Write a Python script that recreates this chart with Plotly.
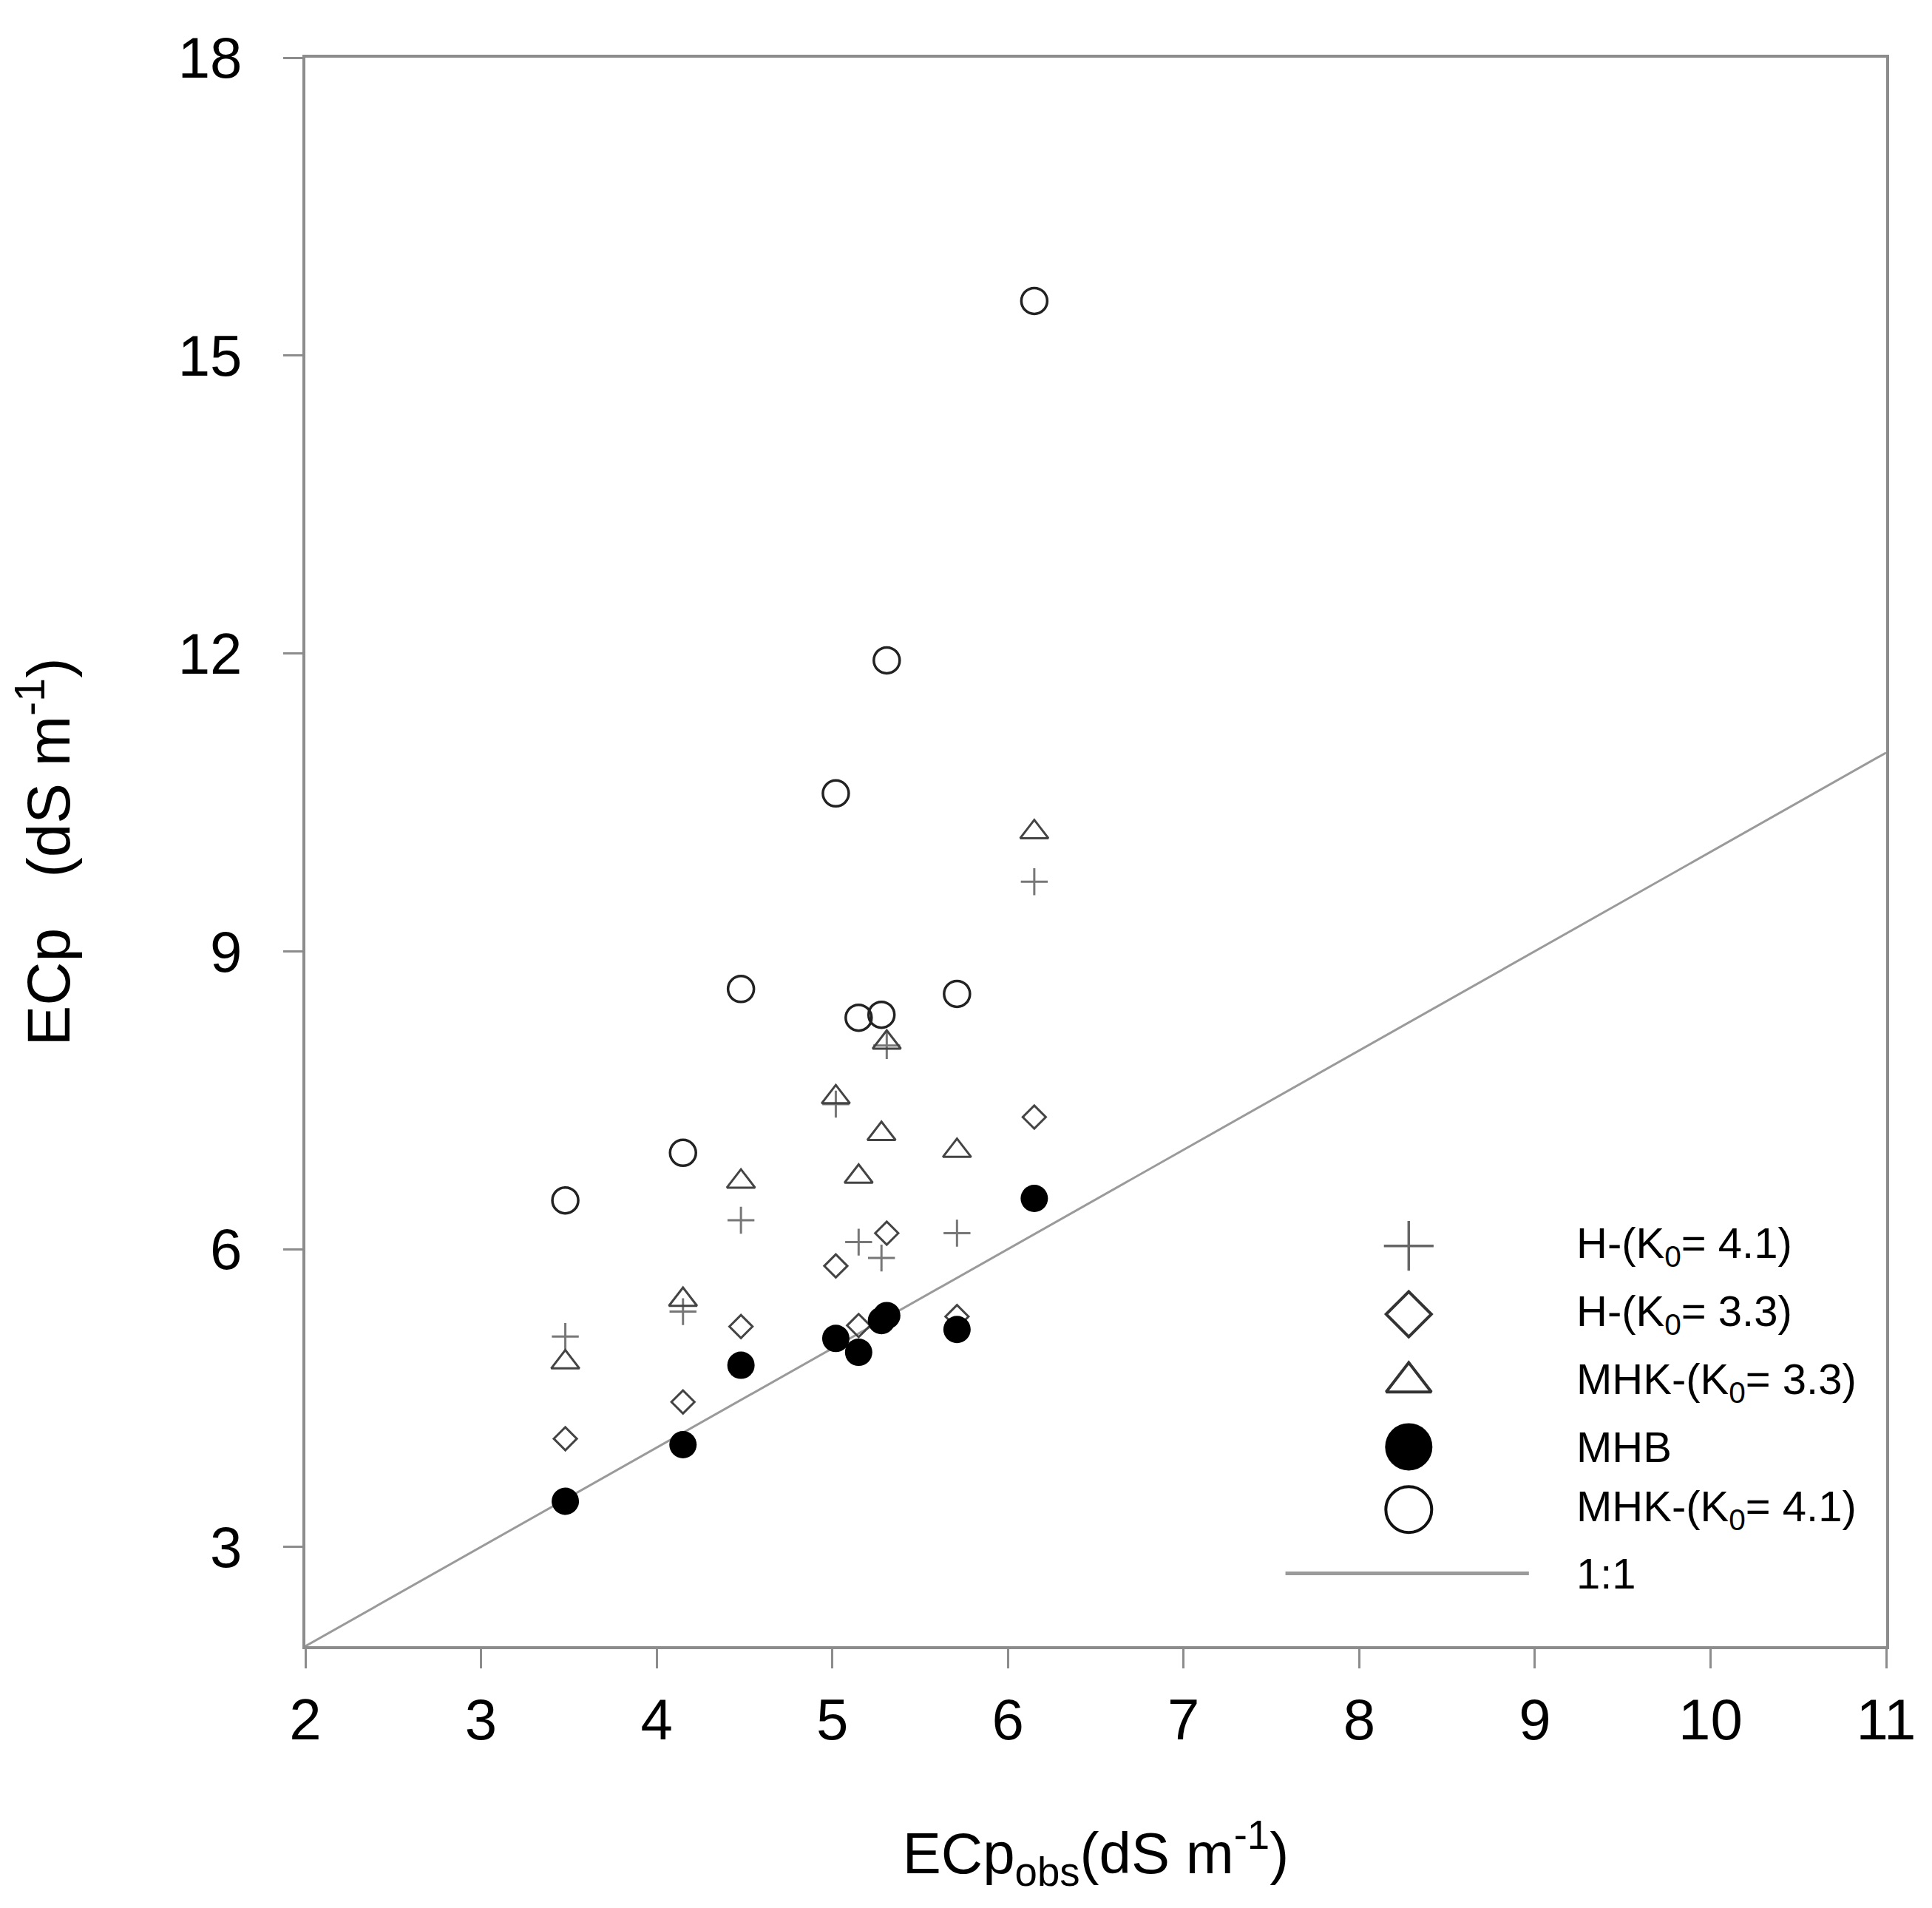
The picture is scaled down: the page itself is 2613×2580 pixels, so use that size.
import plotly.graph_objects as go

# ---------------- data ----------------
ecp_obs = [3.48, 4.15, 4.48, 5.02, 5.15, 5.28, 5.31, 5.71, 6.15]

h_k41 = [5.12, 5.37, 6.29, 7.46, 6.07, 5.91, 8.05, 6.16, 9.70]      # H-(K0=4.1)  +
h_k33 = [4.09, 4.46, 5.22, 5.83, 5.23, 5.30, 6.16, 5.32, 7.33]      # H-(K0=3.3)  diamond
mhk_k33 = [4.86, 5.49, 6.68, 7.53, 6.73, 7.16, 8.08, 6.99, 10.20]   # MHK-(K0=3.3) triangle
mhb = [3.46, 4.03, 4.83, 5.10, 4.96, 5.28, 5.33, 5.19, 6.51]        # MHB filled circle
mhk_k41 = [6.49, 6.97, 8.62, 10.59, 8.33, 8.36, 11.93, 8.57, 15.55] # MHK-(K0=4.1) open circle

one_to_one = [2, 11]

x_ticks = [2, 3, 4, 5, 6, 7, 8, 9, 10, 11]
y_ticks = [3, 6, 9, 12, 15, 18]

legend_labels = ["H-(K<sub>0</sub>= 4.1)", "H-(K<sub>0</sub>= 3.3)",
                 "MHK-(K<sub>0</sub>= 3.3)", "MHB", "MHK-(K<sub>0</sub>= 4.1)", "1:1"]

# ---------------- styling ----------------
FONT = "Liberation Sans, Arial, sans-serif"
AX = "#8c8c8c"

fig = go.Figure()

fig.add_trace(go.Scatter(x=one_to_one, y=one_to_one, mode="lines",
                         line=dict(color="#9a9a9a", width=3), hoverinfo="skip"))

fig.add_trace(go.Scatter(x=ecp_obs, y=h_k41, mode="markers",
                         marker=dict(symbol="cross-thin", size=26, color="#777777",
                                     line=dict(width=3, color="#777777"))))
fig.add_trace(go.Scatter(x=ecp_obs, y=h_k33, mode="markers",
                         marker=dict(symbol="diamond-open", size=24, color="#444444",
                                     line=dict(width=3, color="#444444"))))
fig.add_trace(go.Scatter(x=ecp_obs, y=mhk_k33, mode="markers",
                         marker=dict(symbol="triangle-up-open", size=33, color="#444444",
                                     line=dict(width=3, color="#444444"))))
fig.add_trace(go.Scatter(x=ecp_obs, y=mhb, mode="markers",
                         marker=dict(symbol="circle", size=37, color="black",
                                     line=dict(width=0))))
fig.add_trace(go.Scatter(x=ecp_obs, y=mhk_k41, mode="markers",
                         marker=dict(symbol="circle-open", size=35, color="#222222",
                                     line=dict(width=3.5, color="#222222"))))

# ---------------- hand-drawn legend (large keys) ----------------
key_x = 0.698
text_x = 0.803
row_y = [0.2520, 0.2090, 0.1662, 0.1255, 0.0860, 0.0458]
key_styles = [
    dict(symbol="cross-thin", size=48, color="#666666", line=dict(width=3.5, color="#666666")),
    dict(symbol="diamond-open", size=47, color="#333333", line=dict(width=4, color="#333333")),
    dict(symbol="triangle-up-open", size=53, color="#333333", line=dict(width=4, color="#333333")),
    dict(symbol="circle", size=64, color="black", line=dict(width=0)),
    dict(symbol="circle-open", size=62, color="#111111", line=dict(width=4, color="#111111")),
]
for st, yy in zip(key_styles, row_y[:5]):
    fig.add_trace(go.Scatter(x=[key_x], y=[yy], mode="markers", marker=st,
                             xaxis="x2", yaxis="y2", hoverinfo="skip", cliponaxis=False))
fig.add_shape(type="line", xref="paper", yref="paper", x0=0.620, x1=0.774,
              y0=row_y[5], y1=row_y[5], line=dict(color="#9a9a9a", width=5))
for lab, yy in zip(legend_labels, row_y):
    fig.add_annotation(x=text_x, y=yy, xref="paper", yref="paper", text=lab,
                       showarrow=False, xanchor="left", yanchor="middle",
                       font=dict(family=FONT, size=58, color="black"))

axis_common = dict(showgrid=False, zeroline=False, showline=True, linewidth=4,
                   linecolor=AX, mirror=True, ticks="outside", ticklen=26,
                   tickwidth=3, tickcolor=AX,
                   tickfont=dict(family=FONT, size=78, color="black"))

hidden_axis = dict(range=[0, 1], showticklabels=False, showline=False, showgrid=False,
                   zeroline=False, ticks="")

fig.update_layout(
    width=2613, height=2580, autosize=False,
    margin=dict(l=405, r=70, t=70, b=362),
    paper_bgcolor="white", plot_bgcolor="white",
    showlegend=False,
    xaxis=dict(range=[2, 11], tickvals=x_ticks, ticklabelstandoff=2,
               title=dict(text="ECp<sub>obs</sub>(dS m<sup>-1</sup>)",
                          font=dict(family=FONT, size=78, color="black"), standoff=112),
               **axis_common),
    yaxis=dict(range=[2, 18], tickvals=y_ticks, ticklabelstandoff=40,
               title=dict(text="ECp\u00a0\u00a0\u00a0(dS m<sup>-1</sup>)",
                          font=dict(family=FONT, size=82, color="black"), standoff=150),
               **axis_common),
    xaxis2=dict(overlaying="x", **hidden_axis),
    yaxis2=dict(overlaying="y", **hidden_axis),
)

fig.write_html("out.html")
